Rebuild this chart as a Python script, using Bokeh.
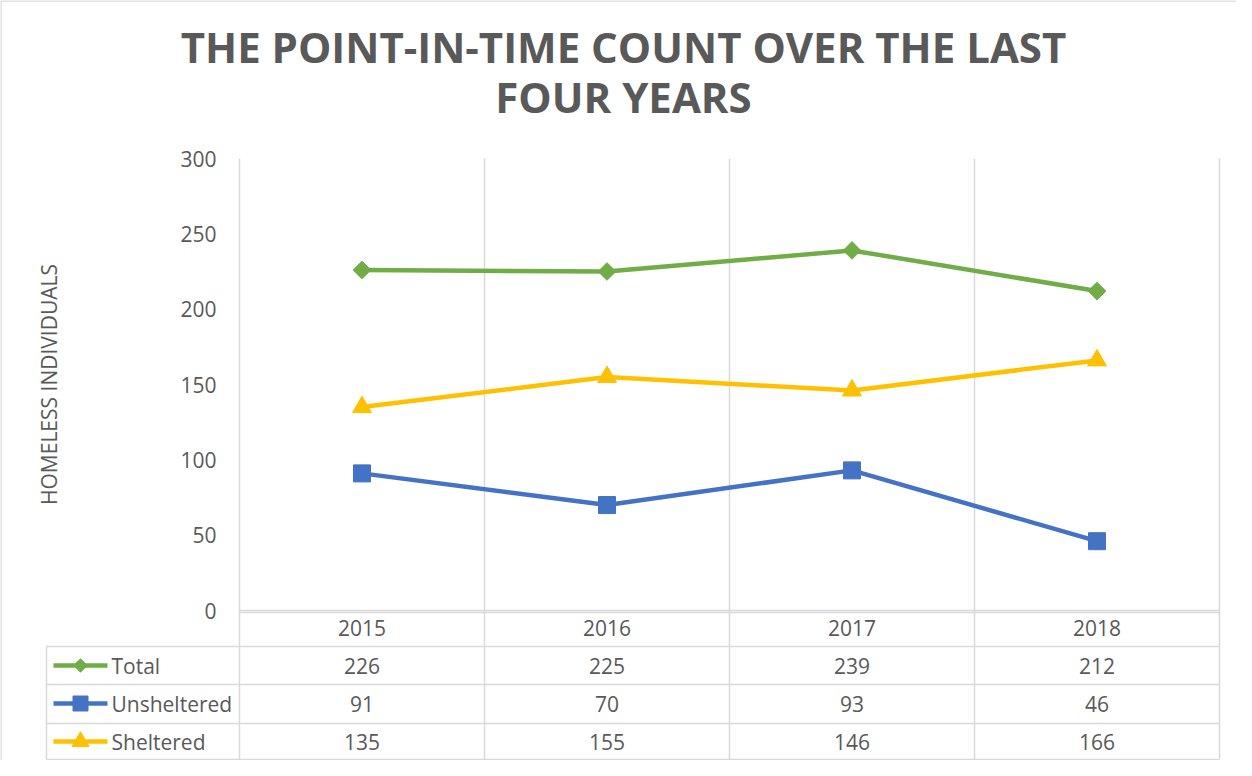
import numpy as np
from bokeh.plotting import figure
from bokeh.models import Range1d, LinearAxis, FixedTicker, Label, Span
from bokeh.core.properties import value
from bokeh.embed import file_html
from bokeh.resources import INLINE

# ---------------- data ----------------
years = ["2015", "2016", "2017", "2018"]
total = [226, 225, 239, 212]
unsheltered = [91, 70, 93, 46]
sheltered = [135, 155, 146, 166]
series_names = ["Total", "Unsheltered", "Sheltered"]
y_ticks = [0, 50, 100, 150, 200, 250, 300]
title_lines = ["THE POINT-IN-TIME COUNT OVER THE LAST", "FOUR YEARS"]
y_title = "HOMELESS INDIVIDUALS"

# ---------------- style / layout ----------------
GREEN = "#70AD47"
BLUE = "#4472C4"
GOLD = "#FFC000"
GRID = "#D9D9D9"
TXT = "#595959"
FONT = "Open Sans"

W, H = 1236, 760
X0_PX = 239          # canvas px of category boundary 0
CAT_PX = 245         # px per category
Y0_PX = 610          # canvas px of value 0
Y_MAX = 300
PPU = 452 / 300      # px per value unit

def xd(px):
    return (px - X0_PX) / CAT_PX

def yd(px):
    return (Y0_PX - px) / PPU

n = len(years)
xs = [i + 0.5 for i in range(n)]
bounds = list(range(n + 1))

p = figure(width=W, height=H, output_backend="svg", toolbar_location=None,
           x_range=Range1d(xd(0), xd(W)), y_range=Range1d(yd(H), yd(0)),
           x_axis_location=None, y_axis_location=None, min_border=0,
           tools="")
p.outline_line_color = None
p.background_fill_color = "white"
p.border_fill_color = "white"
for g in p.grid:
    g.visible = False

# outer chart border (top & left)
p.add_layout(Span(location=yd(0.5), dimension="width", line_color=GRID, line_width=1.5))
p.add_layout(Span(location=xd(0.5), dimension="height", line_color=GRID, line_width=1.5))

# vertical category grid lines (extend through data table)
p.segment(x0=bounds, y0=[Y_MAX] * len(bounds), x1=bounds, y1=[yd(H - 1)] * len(bounds),
          line_color=GRID, line_width=1.5)

# data table lines
TABLE_LEFT = xd(46)
ROW_PX = [36, 74, 113, 149]
p.segment(x0=[0], y0=[yd(Y0_PX + 2)], x1=[n], y1=[yd(Y0_PX + 2)], line_color=GRID, line_width=1.5)
p.segment(x0=[TABLE_LEFT] * len(ROW_PX), y0=[yd(Y0_PX + r) for r in ROW_PX],
          x1=[n] * len(ROW_PX), y1=[yd(Y0_PX + r) for r in ROW_PX],
          line_color=GRID, line_width=1.5)
p.segment(x0=[TABLE_LEFT], y0=[yd(Y0_PX + ROW_PX[0])], x1=[TABLE_LEFT], y1=[yd(Y0_PX + ROW_PX[-1])],
          line_color=GRID, line_width=1.5)

# axes
xaxis = LinearAxis(fixed_location=0, bounds=(0, n),
                   ticker=FixedTicker(ticks=xs),
                   major_label_overrides={x: y for x, y in zip(xs, years)})
xaxis.axis_line_color = GRID
xaxis.axis_line_width = 1.5
xaxis.major_tick_out = 0
xaxis.major_tick_in = 0
xaxis.minor_tick_out = 0
xaxis.minor_tick_in = 0
xaxis.major_label_standoff = 9
xaxis.major_label_text_font = FONT
xaxis.major_label_text_font_size = "21px"
xaxis.major_label_text_color = TXT
p.add_layout(xaxis, "below")

yaxis = LinearAxis(fixed_location=0, bounds=(0, Y_MAX),
                   ticker=FixedTicker(ticks=y_ticks))
yaxis.axis_line_color = None
yaxis.major_tick_out = 0
yaxis.major_tick_in = 0
yaxis.minor_tick_out = 0
yaxis.minor_tick_in = 0
yaxis.major_label_standoff = 23
yaxis.major_label_text_font = FONT
yaxis.major_label_text_font_size = "21px"
yaxis.major_label_text_color = TXT
yaxis.axis_label = y_title
yaxis.axis_label_text_font = FONT
yaxis.axis_label_text_font_size = "21px"
yaxis.axis_label_text_font_style = "normal"
yaxis.axis_label_text_color = TXT
yaxis.axis_label_standoff = 114
p.add_layout(yaxis, "left")

# series
series_vals = [total, unsheltered, sheltered]
colors = [GREEN, BLUE, GOLD]
markers = [dict(marker="square", angle=np.pi / 4, size=12.5),
           dict(marker="square", size=17),
           dict(marker="triangle", size=19)]
key_markers = [dict(marker="square", angle=np.pi / 4, size=9.5),
               dict(marker="square", size=15),
               dict(marker="triangle", size=17)]
for vals, col, mk in zip(series_vals, colors, markers):
    p.line(xs, vals, line_color=col, line_width=4.5)
    p.scatter(xs, vals, fill_color=col, line_color=col, **mk)

# data table: legend keys, row labels and values
ROW_CENTER_PX = [55, 93, 131]
KEY_X0, KEY_X1, LABEL_X = xd(53), xd(107), xd(111)
for name, vals, col, kmk, rc in zip(series_names, series_vals, colors, key_markers, ROW_CENTER_PX):
    yrow = yd(Y0_PX + rc)
    p.segment(x0=[KEY_X0], y0=[yrow], x1=[KEY_X1], y1=[yrow], line_color=col, line_width=4.5)
    p.scatter([(KEY_X0 + KEY_X1) / 2], [yrow], fill_color=col, line_color=col, **kmk)
    p.text(x=[LABEL_X], y=[yrow], text=[name],
           text_font=value(FONT), text_font_size="21px", text_color=TXT,
           text_align="left", text_baseline="middle")
    p.text(x=xs, y=[yrow] * n, text=[str(v) for v in vals],
           text_font=value(FONT), text_font_size="21px", text_color=TXT,
           text_align="center", text_baseline="middle")

# title
title_baselines = [46, 96]
for line, bpx in zip(title_lines, title_baselines):
    p.add_layout(Label(x=xd(623), y=yd(bpx), text=line, text_align="center",
                       text_baseline="alphabetic", text_font=FONT,
                       text_font_size="42px", text_font_style="bold",
                       text_color=TXT))

open("out.html", "w").write(file_html(p, INLINE))
